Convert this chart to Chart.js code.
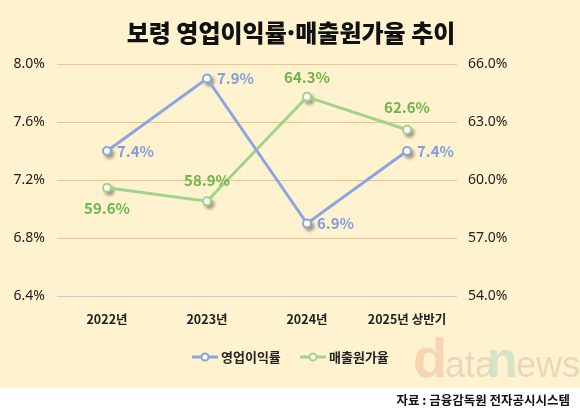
<!DOCTYPE html>
<html lang="ko">
<head>
<meta charset="utf-8">
<script src="https://cdn.jsdelivr.net/npm/chart.js@4"></script>
<style>
  html, body { margin: 0; padding: 0; background: #fff; }
  #wrap { width: 580px; height: 415px; position: relative; }
</style>
</head>
<body>
<div id="wrap"><canvas id="c" width="580" height="415"></canvas></div>
<script>
/* ── Data ───────────────────────────────────────────── */
const categories   = ['2022년', '2023년', '2024년', '2025년 상반기'];
const opMargin     = [7.4, 7.9, 6.9, 7.4];      // 영업이익률 (left axis)
const costRatio    = [59.6, 58.9, 64.3, 62.6];  // 매출원가율 (right axis)
const seriesNames  = ['영업이익률', '매출원가율'];
const leftTicks    = [6.4, 6.8, 7.2, 7.6, 8.0];
const rightTicks   = [54, 57, 60, 63, 66];

const BLUE   = '#8aa6de';
const GREEN  = '#a2d38c';
const BLUE_T = '#7f9edc';
const GREEN_T= '#6cb54a';
const KR = "'Noto Sans CJK KR', 'Noto Sans', sans-serif";

/* ── Background, title, legend, watermark, source ───── */
const decor = {
  id: 'decor',
  beforeDraw(chart) {
    const c = chart.ctx;
    c.save();
    c.fillStyle = '#fff';
    c.fillRect(0, 0, chart.width, chart.height);
    c.fillStyle = '#fef2cf';
    c.fillRect(0, 0, chart.width, 388);

    // watermark
    c.textBaseline = 'alphabetic';
    c.textAlign = 'left';
    c.font = 'bold 56px Arial, "Liberation Sans", sans-serif';
    c.fillStyle = 'rgba(247,200,166,0.7)';
    c.fillText('d', 413, 377);
    c.font = '36px Arial, "Liberation Sans", sans-serif';
    c.fillStyle = 'rgba(216,206,184,0.7)';
    c.fillText('ata', 445, 377);
    c.font = 'bold 50px Arial, "Liberation Sans", sans-serif';
    c.fillStyle = 'rgba(204,222,192,0.8)';
    c.fillText('n', 487, 377);
    c.font = '36px Arial, "Liberation Sans", sans-serif';
    c.fillStyle = 'rgba(216,206,184,0.7)';
    c.fillText('ews', 516, 377);

    // title
    c.fillStyle = '#111';
    c.textAlign = 'center';
    c.textBaseline = 'middle';
    c.font = `900 24px ${KR}`;
    c.fillText('보령 영업이익률·매출원가율 추이', 291, 33);

    // legend
    const items = [[BLUE, seriesNames[0], 192], [GREEN, seriesNames[1], 300]];
    items.forEach(([col, txt, x]) => {
      c.strokeStyle = col;
      c.lineWidth = 3;
      c.beginPath(); c.moveTo(x, 357); c.lineTo(x + 26, 357); c.stroke();
      c.fillStyle = '#fff';
      c.lineWidth = 2;
      c.beginPath(); c.arc(x + 13, 357, 3.5, 0, Math.PI * 2); c.fill(); c.stroke();
      c.fillStyle = '#222';
      c.textAlign = 'left';
      c.font = `bold 13px ${KR}`;
      c.fillText(txt, x + 29, 357);
    });

    // source
    c.textAlign = 'right';
    c.font = `bold 12.5px ${KR}`;
    c.fillStyle = '#111';
    c.fillText('자료 : 금융감독원 전자공시시스템', 570, 400);
    c.restore();
  }
};

/* ── Point shadows + value labels ───────────────────── */
const labelOffsets = [
  [[10, 0, 'left'], [10, 0, 'left'], [10, 0, 'left'], [10, 0, 'left']],
  [[0, 21, 'center'], [0, -21, 'center'], [0, -20, 'center'], [0, -22, 'center']]
];

const pointDeco = {
  id: 'pointDeco',
  beforeDatasetDraw(chart, args) {
    const c = chart.ctx;
    const meta = chart.getDatasetMeta(args.index);
    c.save();
    c.fillStyle = 'rgba(80,70,50,0.5)';
    c.filter = 'blur(1.5px)';
    meta.data.forEach(p => {
      c.beginPath(); c.arc(p.x + 2.5, p.y + 3, 5, 0, Math.PI * 2); c.fill();
    });
    c.restore();
  },
  afterDatasetsDraw(chart) {
    const c = chart.ctx;
    c.save();
    c.font = `bold 15px ${KR}`;
    c.textBaseline = 'middle';
    chart.data.datasets.forEach((ds, di) => {
      const meta = chart.getDatasetMeta(di);
      c.fillStyle = di === 0 ? BLUE_T : GREEN_T;
      meta.data.forEach((p, i) => {
        const [dx, dy, al] = labelOffsets[di][i];
        c.textAlign = al;
        c.fillText(ds.data[i].toFixed(1) + '%', p.x + dx, p.y + dy);
      });
    });
    c.restore();
  }
};

new Chart(document.getElementById('c'), {
  type: 'line',
  data: {
    labels: categories,
    datasets: [
      {
        label: seriesNames[0], data: opMargin, yAxisID: 'y',
        borderColor: BLUE, borderWidth: 3,
        pointBackgroundColor: '#fff', pointBorderColor: BLUE,
        pointBorderWidth: 2, pointRadius: 4
      },
      {
        label: seriesNames[1], data: costRatio, yAxisID: 'y2',
        borderColor: GREEN, borderWidth: 3,
        pointBackgroundColor: '#fff', pointBorderColor: GREEN,
        pointBorderWidth: 2, pointRadius: 4
      }
    ]
  },
  options: {
    responsive: false,
    animation: false,
    devicePixelRatio: 1,
    layout: { padding: { top: 64, left: 0, right: 0, bottom: 0 } },
    plugins: { legend: { display: false }, tooltip: { enabled: false } },
    scales: {
      x: {
        offset: true,
        grid: { display: false },
        border: { display: false },
        ticks: { color: '#222', padding: 8, font: { family: KR, size: 12.5, weight: 'bold' } },
        afterFit(s) { s.height = 119; }
      },
      y: {
        position: 'left',
        min: leftTicks[0], max: leftTicks[leftTicks.length - 1],
        afterBuildTicks(s) { s.ticks = leftTicks.map(v => ({ value: v })); },
        ticks: {
          color: '#222', padding: 12,
          font: { family: "'Noto Sans', sans-serif", size: 14 },
          callback: v => v.toFixed(1) + '%'
        },
        grid: {
          drawTicks: false, lineWidth: 1,
          color: ctx => ctx.tick && ctx.tick.value === leftTicks[0] ? '#bccdee' : '#f6bf8e'
        },
        border: { display: false },
        afterFit(s) { s.width = 57; }
      },
      y2: {
        position: 'right',
        min: rightTicks[0], max: rightTicks[rightTicks.length - 1],
        afterBuildTicks(s) { s.ticks = rightTicks.map(v => ({ value: v })); },
        ticks: {
          color: '#222', padding: 11,
          font: { family: "'Noto Sans', sans-serif", size: 14 },
          callback: v => v.toFixed(1) + '%'
        },
        grid: { display: false, drawTicks: false },
        border: { display: false },
        afterFit(s) { s.width = 123; }
      }
    }
  },
  plugins: [decor, pointDeco]
});
</script>
</body>
</html>
